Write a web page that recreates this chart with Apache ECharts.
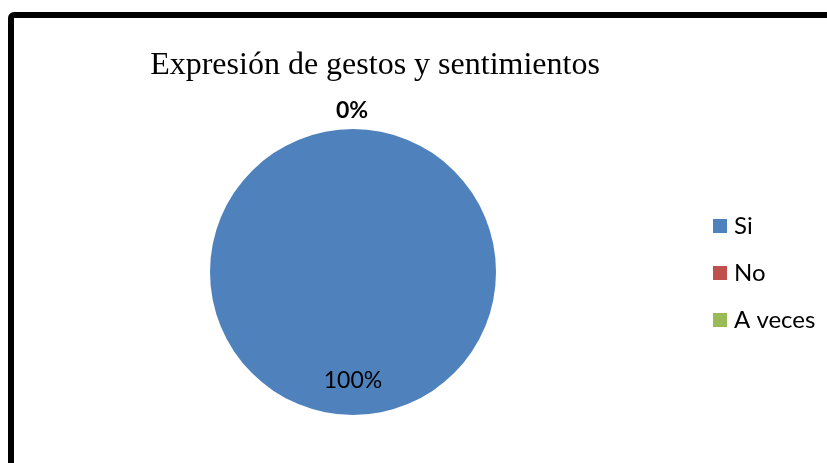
<!DOCTYPE html>
<html>
<head>
<meta charset="utf-8">
<script src="https://cdn.jsdelivr.net/npm/echarts@6/dist/echarts.min.js"></script>
<style>
  html, body { margin: 0; padding: 0; background: #fff; }
  #chart { width: 827px; height: 463px; }
</style>
</head>
<body>
<div id="chart"></div>
<script>
const titleText = 'Expresión de gestos y sentimientos';
const categories = ['Si', 'No', 'A veces'];
const values = [100, 0, 0];
const colors = ['#4F81BD', '#C0504D', '#9BBB59'];

const bodyFont = 'Lato, "Open Sans", sans-serif';

const pieData = categories.map((name, i) => {
  const item = { name: name, value: values[i], itemStyle: { color: colors[i] } };
  if (i === 0) {
    item.label = { position: 'inside', offset: [0, 34], fontWeight: 'normal' };
  } else if (i === 1) {
    item.label = { position: 'outside', fontWeight: 'bold', offset: [-22, -14] };
    item.labelLine = { show: false };
  } else {
    item.label = { show: false };
    item.labelLine = { show: false };
  }
  return item;
});

const chart = echarts.init(document.getElementById('chart'), null, { renderer: 'canvas' });
chart.setOption({
  animation: false,
  backgroundColor: '#ffffff',
  title: {
    text: titleText,
    left: 370,
    textAlign: 'center',
    top: 45,
    textStyle: {
      fontFamily: '"Liberation Serif", "DejaVu Serif", serif',
      fontSize: 32,
      fontWeight: 'normal',
      color: '#000'
    }
  },
  legend: {
    orient: 'vertical',
    left: 708,
    top: 209,
    itemWidth: 14,
    itemHeight: 14,
    itemGap: 23,
    icon: 'rect',
    data: categories,
    textStyle: { fontFamily: bodyFont, fontSize: 24, color: '#000', padding: [0, 0, 0, 2] }
  },
  graphic: [{
    type: 'rect',
    shape: { x: 11, y: 15, width: 900, height: 600, r: 3 },
    style: { fill: null, stroke: '#000', lineWidth: 6 },
    silent: true,
    z: 100
  }],
  series: [{
    type: 'pie',
    center: [353, 272],
    radius: [0, 143],
    startAngle: 90,
    avoidLabelOverlap: false,
    label: {
      show: true,
      formatter: '{d}%',
      fontFamily: bodyFont,
      fontSize: 23,
      color: '#000'
    },
    labelLine: { show: false, length: 4, length2: 0 },
    data: pieData
  }]
});
</script>
</body>
</html>
